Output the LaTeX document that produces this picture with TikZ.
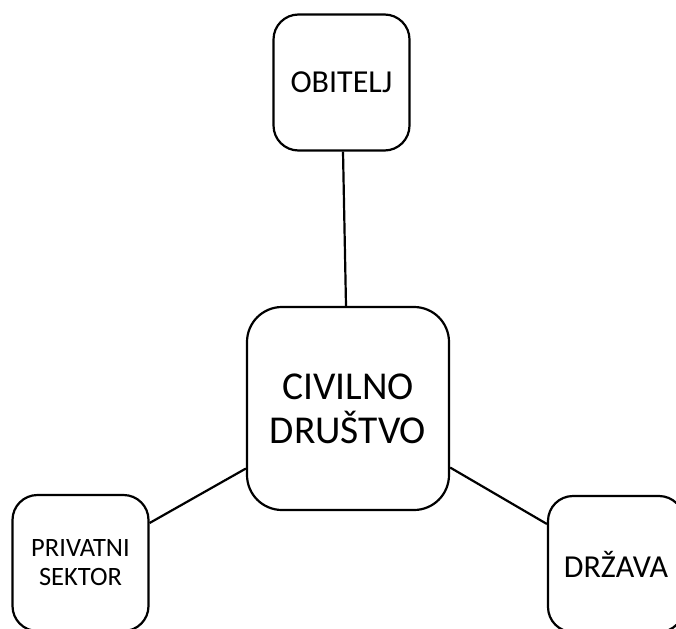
\documentclass[tikz,border=0pt]{standalone}
\usepackage{fontspec}
\setmainfont{Carlito}
\begin{document}
\begin{tikzpicture}[x=1pt,y=-1pt,
  box/.style={draw, line width=2.2pt, rounded corners=25pt, minimum width=136pt, minimum height=136pt, inner sep=0pt, align=center},
  link/.style={line width=2.2pt}]
\useasboundingbox (0,0) rectangle (676,628);
\clip (0,0) rectangle (676,628);
\node[box, font=\fontsize{32}{38}\selectfont] (ob) at (341.5,82.5) {OBITELJ};
\node[box, minimum width=202pt, minimum height=203pt, rounded corners=35pt, font=\fontsize{39.5}{44}\selectfont] (cd) at (348,408.5) {CIVILNO\\DRUŠTVO};
\node[box, font=\fontsize{26.5}{29}\selectfont] (ps) at (80.5,563) {PRIVATNI\\SEKTOR};
\node[box, font=\fontsize{32}{38}\selectfont] (dr) at (616,564) {DRŽAVA};
\draw[link] ([xshift=1.5pt]ob.south) -- ([xshift=-2pt]cd.north);
\draw[link] ([yshift=40pt]ps.east) -- ([yshift=-60pt]cd.west);
\draw[link] ([yshift=-59pt]cd.east) -- ([yshift=40pt]dr.west);
\end{tikzpicture}
\end{document}
